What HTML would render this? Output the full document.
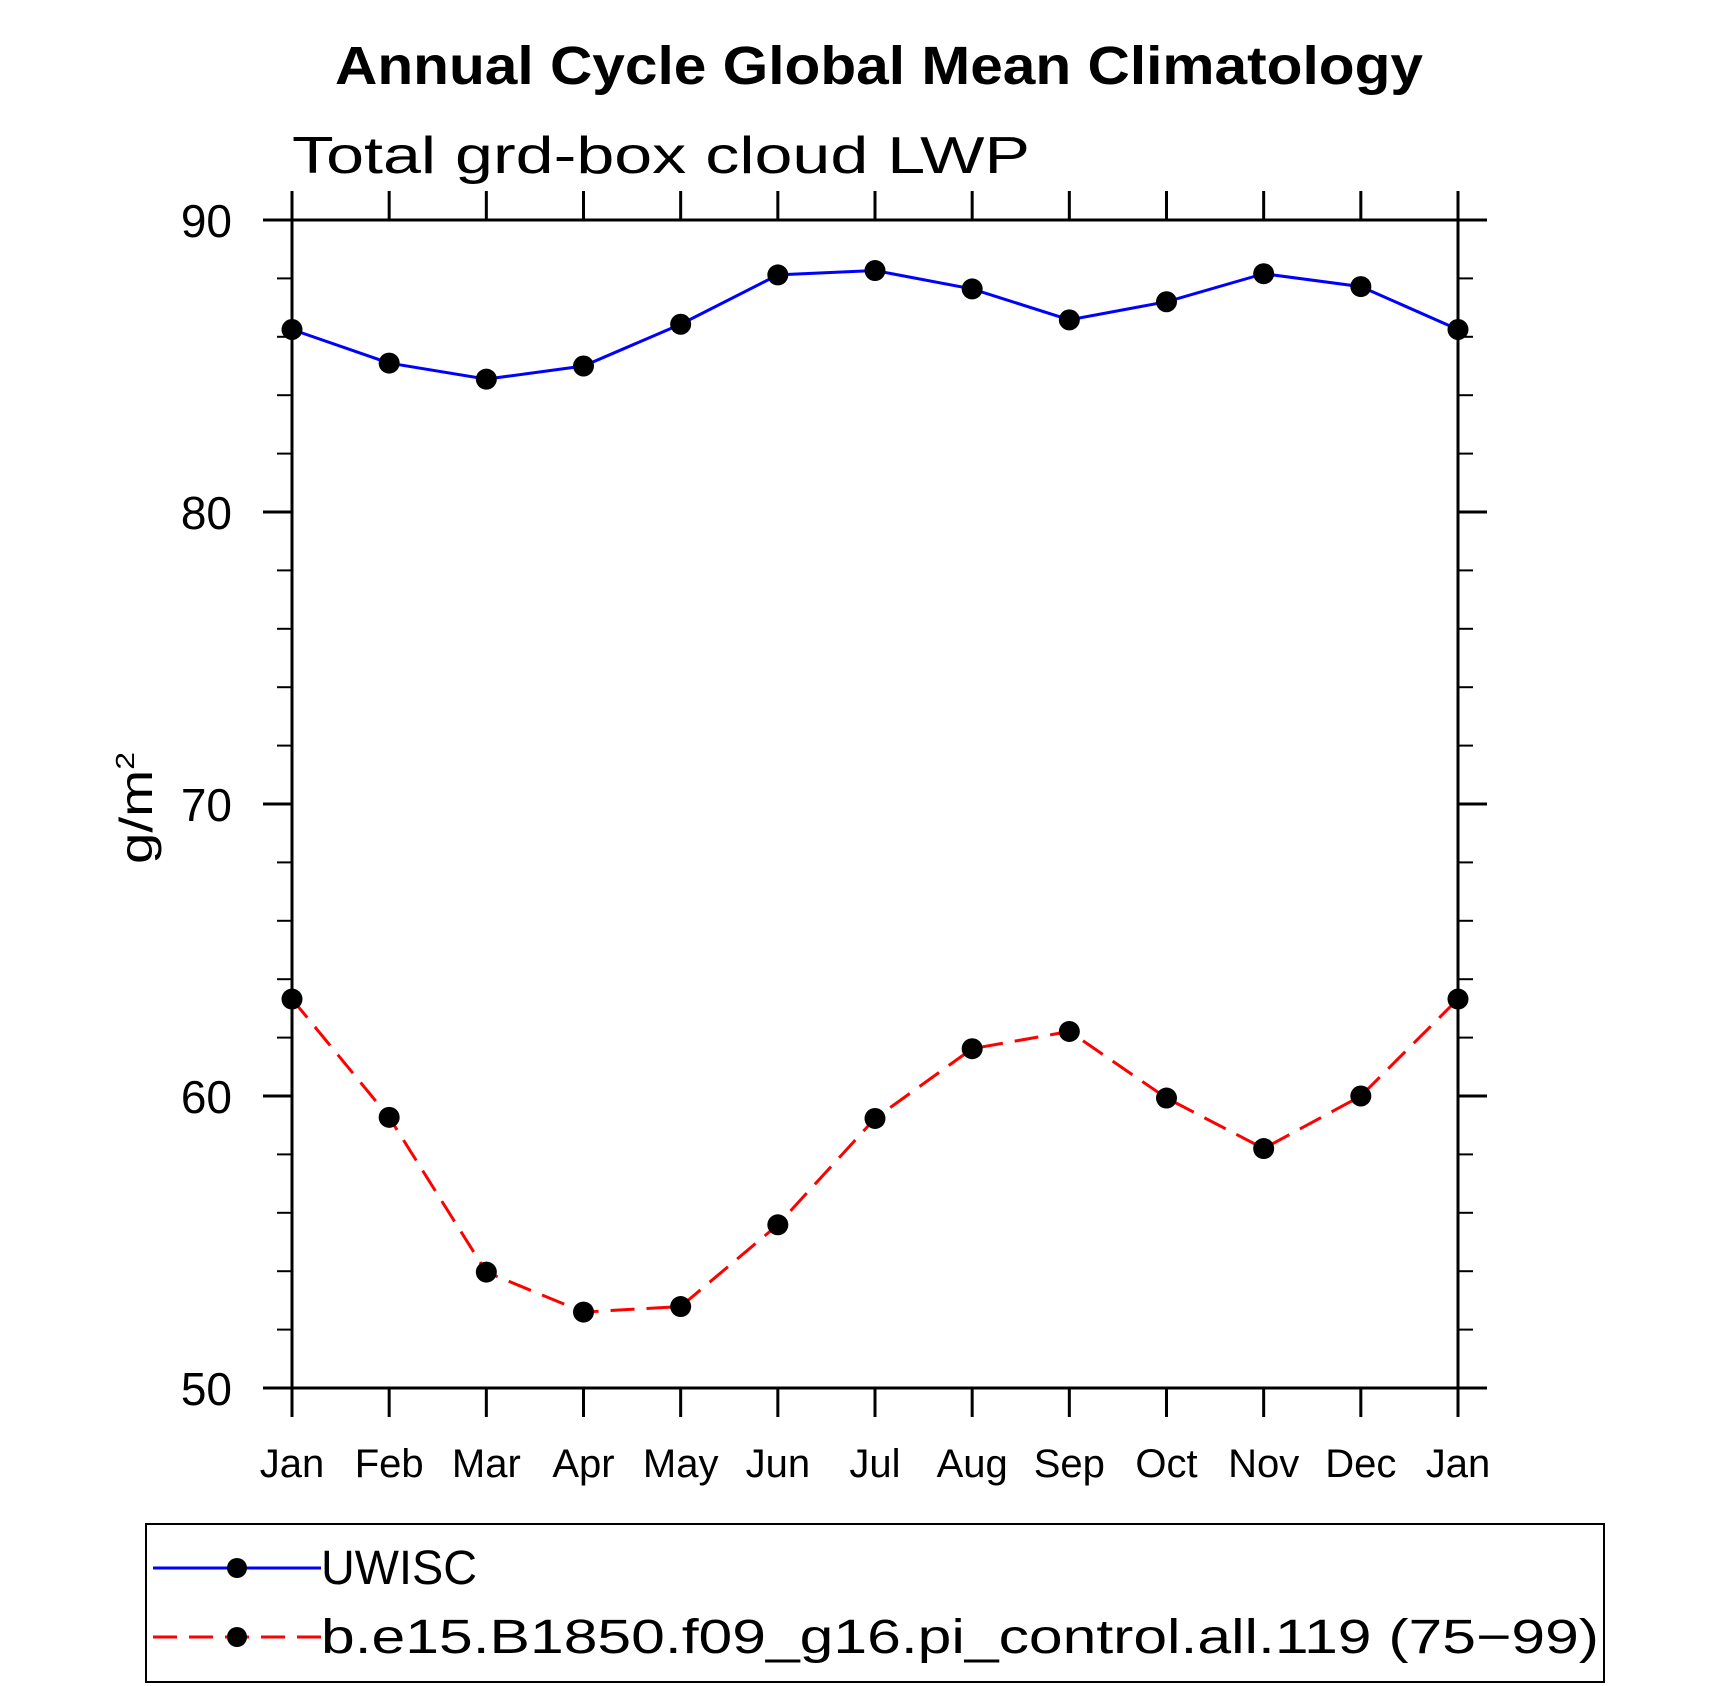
<!DOCTYPE html>
<html><head><meta charset="utf-8"><style>
html,body{margin:0;padding:0;background:#fff;}
svg{display:block;font-family:"Liberation Sans",sans-serif;}
</style></head><body>
<svg id="chart" width="1710" height="1686" viewBox="0 0 1710 1686">
<text x="879" y="84" text-anchor="middle" font-size="54" font-weight="bold" textLength="1088" lengthAdjust="spacingAndGlyphs">Annual Cycle Global Mean Climatology</text>
<text x="292" y="173" font-size="52" font-weight="300" textLength="738" lengthAdjust="spacingAndGlyphs">Total grd-box cloud LWP</text>
<text transform="translate(152,808) rotate(-90)" text-anchor="middle" font-size="46" textLength="112" lengthAdjust="spacingAndGlyphs">g/m<tspan font-size="26" dy="-18">2</tspan></text>
<g id="axes"></g>
<g id="series"></g>
<rect x="146" y="1524" width="1458" height="158" fill="none" stroke="#000" stroke-width="2"/>
<g>
<line x1="153" y1="1568" x2="321" y2="1568" stroke="#0000ff" stroke-width="3"/>
<circle cx="237" cy="1568" r="10"/>
<text x="321" y="1584" font-size="48" textLength="156" lengthAdjust="spacingAndGlyphs">UWISC</text>
</g>
<g>
<line x1="153" y1="1637" x2="321" y2="1637" stroke="#ff0000" stroke-width="3" stroke-dasharray="24,12"/>
<circle cx="237" cy="1637" r="10"/>
<text x="321" y="1653" font-size="48" textLength="1278" lengthAdjust="spacingAndGlyphs">b.e15.B1850.f09_g16.pi_control.all.119 (75−99)</text>
</g>
</svg>
<script>
const months = ["Jan","Feb","Mar","Apr","May","Jun","Jul","Aug","Sep","Oct","Nov","Dec","Jan"];
const uwisc = [86.25,85.1,84.55,85.0,86.43,88.12,88.27,87.64,86.58,87.2,88.16,87.72,86.25];
const model = [63.32,59.27,53.97,52.6,52.79,55.59,59.23,61.62,62.21,59.93,58.2,60.0,63.32];
const yTicks = [50,60,70,80,90];
const yMinorTicks = [52,54,56,58,62,64,66,68,72,74,76,78,82,84,86,88];

const NS="http://www.w3.org/2000/svg";
const L=292, R=1458, T=220, B=1388, ymin=50, ymax=90;
function xs(i){return L+(R-L)*i/(months.length-1);}
function ys(v){return B-(B-T)*(v-ymin)/(ymax-ymin);}
function mk(tag,attrs,parent){const e=document.createElementNS(NS,tag);for(const k in attrs)e.setAttribute(k,attrs[k]);parent.appendChild(e);return e;}
const axes=document.getElementById('axes');
const frame=mk('rect',{x:L,y:T,width:R-L,height:B-T,fill:'none',stroke:'#000','stroke-width':3},axes);


months.forEach((m,i)=>{
  const x=xs(i);
  const t1=mk('line',{x1:x,y1:B,x2:x,y2:B+29,stroke:'#000','stroke-width':3},axes);
  
  
  const t2=mk('line',{x1:x,y1:T,x2:x,y2:T-29,stroke:'#000','stroke-width':3},axes);
  
  
  const tx=mk('text',{x:x,y:1477,'text-anchor':'middle','font-size':40,'font-weight':300},axes);
  tx.textContent=m;
  
  
});
yTicks.forEach(v=>{
  const y=ys(v);
  const a=mk('line',{x1:L,y1:y,x2:L-29,y2:y,stroke:'#000','stroke-width':3},axes);
  
  
  const b=mk('line',{x1:R,y1:y,x2:R+29,y2:y,stroke:'#000','stroke-width':3},axes);
  
  
  const tx=mk('text',{x:232,y:y+17,'text-anchor':'end','font-size':46,'font-weight':300},axes);
  tx.textContent=v;
  
  
});
yMinorTicks.forEach(v=>{
  const y=ys(v);
  const a=mk('line',{x1:L,y1:y,x2:L-15,y2:y,stroke:'#000','stroke-width':2},axes);
  
  
  const b=mk('line',{x1:R,y1:y,x2:R+15,y2:y,stroke:'#000','stroke-width':2},axes);
  
  
});
const series=document.getElementById('series');
function draw(vals,color,dash,name){
  const p=mk('polyline',{points:vals.map((v,i)=>xs(i)+','+ys(v)).join(' '),fill:'none',stroke:color,'stroke-width':3},series);
  if(dash)p.setAttribute('stroke-dasharray',dash);
  
  
  vals.forEach((v,i)=>{
    const c=mk('circle',{cx:xs(i),cy:ys(v),r:10.5,fill:'#000'},series);
    
    
  });
}
draw(uwisc,'#0000ff',null,'uwisc');
draw(model,'#ff0000','24,12','model');
</script>
</body></html>
